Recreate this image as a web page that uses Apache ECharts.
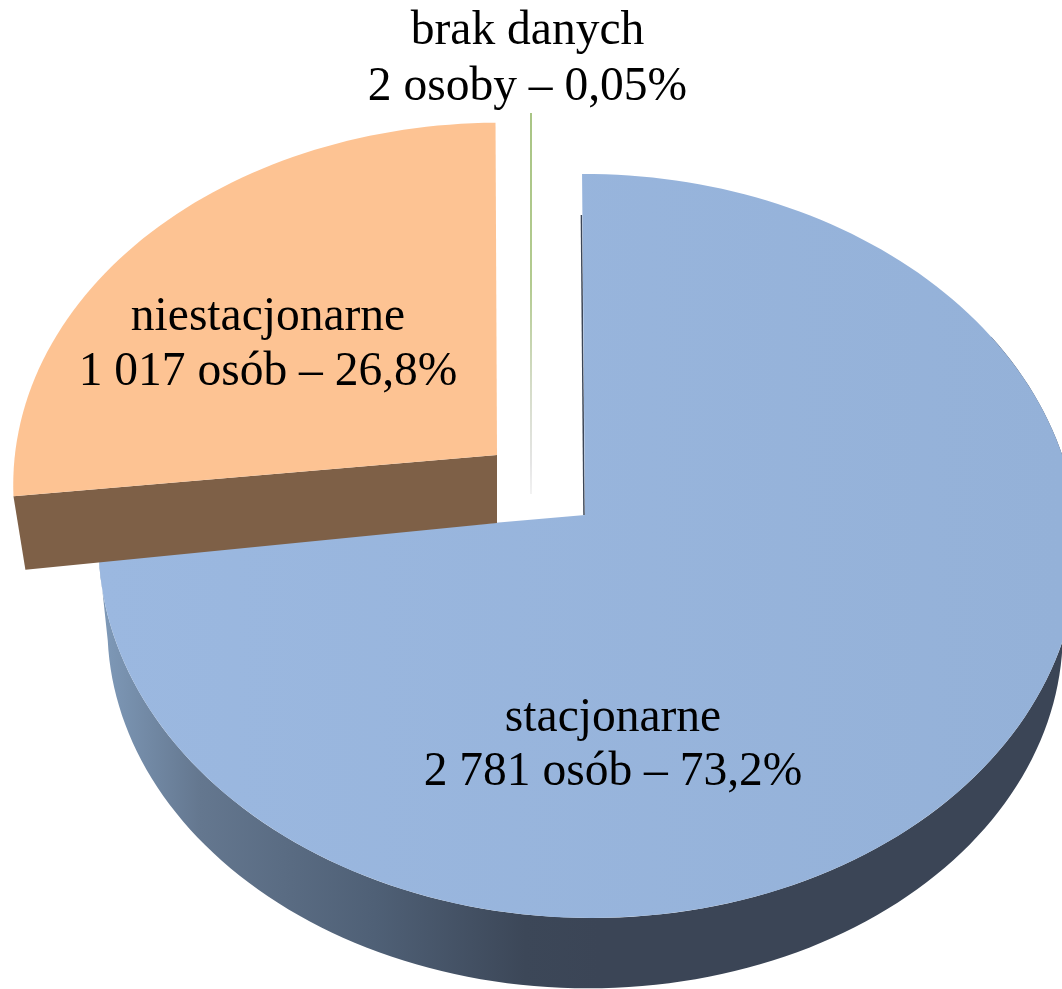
<!DOCTYPE html>
<html>
<head>
<meta charset="utf-8">
<style>html,body{margin:0;padding:0;background:#fff}#c{width:1062px;height:989px}</style>
<script src="https://cdn.jsdelivr.net/npm/echarts@6/dist/echarts.min.js"></script>
</head>
<body>
<div id="c"></div>
<script>
const categories = ['stacjonarne', 'niestacjonarne', 'brak danych'];
const values = [2781, 1017, 2];
const valueLabels = ['2 781 osób – 73,2%', '1 017 osób – 26,8%', '2 osoby – 0,05%'];

const total = values.reduce((a, b) => a + b, 0);
const K = 0.0833, M = -0.006;
const G = echarts.graphic;
// perspective projection of a pie angle onto the tilted disc
function proj(v, deg) {
  const t = deg * Math.PI / 180, s = Math.sin(t), c = Math.cos(t), d = 1 + K * c + M * s;
  return [v.ax + (v.b * s + v.h * c) / d, v.ay - v.a * c / d];
}
function arc(v, from, to) {
  const n = Math.max(2, Math.ceil(Math.abs(to - from) / 1.5)), pts = [];
  for (let i = 0; i <= n; i++) pts.push(proj(v, from + (to - from) * i / n));
  return pts;
}
const views = [
  { top: { ax: 585, ay: 515, a: 369.4, b: 488, h: -3.2 },
    low: { ax: 582, ay: 600, a: 356, b: 476, h: -3 } },
  { top: { ax: 497, ay: 455, a: 360, b: 485, h: 0 },
    low: { ax: 497, ay: 523, a: 410, b: 473, h: 0 } },
  { top: { ax: 531, ay: 494, a: 415, b: 490, h: 0 } }
];
const labelAt = [[613, 719, 773], [268, 318, 373], [527.5, 32, 88]];
const faceFill = [
  new G.LinearGradient(98, 0, 1062, 0, [{ offset: 0, color: '#9bb8e0' }, { offset: 1, color: '#94b1d8' }], true),
  '#fdc393', '#b5cf8f'
];
const wallFill = new G.LinearGradient(100, 0, 600, 0, [
  { offset: 0, color: '#7f9ab9' }, { offset: 0.2, color: '#64778f' },
  { offset: 0.55, color: '#4f6076' }, { offset: 0.85, color: '#3c4758' }, { offset: 1, color: '#3b4556' }
], true);
const sliverFill = new G.LinearGradient(0, 113, 0, 494, [
  { offset: 0, color: '#a9c585' }, { offset: 0.45, color: '#b3cb90' }, { offset: 0.72, color: '#d5dcc8' },
  { offset: 0.92, color: '#e5e5e5' }, { offset: 1, color: '#f2f2f2' }
], true);

function renderItem(params, api) {
  const i = params.dataIndex;
  let before = 0;
  for (let j = 0; j < i; j++) before += values[j];
  const from = before / total * 360, to = (before + api.value(0)) / total * 360;
  const v = views[i], children = [];
  if (i === 0) {
    const upper = arc(v.top, to, 60), lower = arc(v.low, to, 60);
    children.push({ type: 'polygon', shape: { points: upper.concat(lower.reverse()) },
      style: { fill: wallFill } });
    // edge of the cut face, seen almost end-on
    children.push({ type: 'line', shape: { x1: 581.4, y1: 215, x2: v.top.ax - 1, y2: v.top.ay },
      style: { stroke: '#3b4556', lineWidth: 1.5 } });
  }
  if (i === 1) {
    const a0 = proj(v.top, from), a1 = proj(v.low, from);
    children.push({ type: 'polygon',
      shape: { points: [[v.top.ax, v.top.ay], a0, a1, [v.low.ax, v.low.ay]] },
      style: { fill: '#7e6047' } });
  }
  if (i === 2) {
    children.push({ type: 'line', shape: { x1: v.top.ax, y1: v.top.ay, x2: v.top.ax, y2: 113 },
      style: { lineWidth: 2, stroke: sliverFill } });
  } else {
    children.push({ type: 'polygon',
      shape: { points: [[v.top.ax, v.top.ay]].concat(arc(v.top, from, to)) },
      style: { fill: faceFill[i] } });
  }
  const at = labelAt[i];
  [categories[i], valueLabels[i]].forEach((t, k) => {
    children.push({ type: 'text', z2: 10, style: {
      x: at[0], y: at[k + 1], text: t, align: 'center', verticalAlign: 'middle',
      fill: '#000', font: '47.5px "Liberation Serif"' } });
  });
  return { type: 'group', children };
}

const chart = echarts.init(document.getElementById('c'), null, { renderer: 'canvas' });
chart.setOption({
  animation: false,
  series: [{
    type: 'custom',
    coordinateSystem: 'none',
    renderItem,
    data: values.map((v, i) => ({ name: categories[i], value: [v] }))
  }]
});
</script>
</body>
</html>
